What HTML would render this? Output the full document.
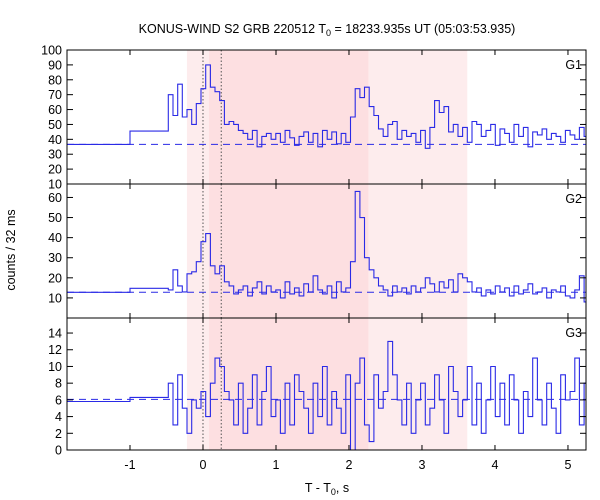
<!DOCTYPE html>
<html><head><meta charset="utf-8"><style>
body{margin:0;background:#fff}
svg{display:block;font-family:"Liberation Sans","DejaVu Sans",sans-serif}
</style></head><body>
<svg id="chart" width="600" height="500">
<text x="327" y="33" text-anchor="middle" font-size="12.5">KONUS-WIND S2 GRB 220512 T<tspan font-size="9" dy="3">0</tspan><tspan dy="-3"> = 18233.935s UT (05:03:53.935)</tspan></text>
<text transform="translate(15,250) rotate(-90)" text-anchor="middle" font-size="12.5">counts / 32 ms</text>
<text x="327" y="492" text-anchor="middle" font-size="12.5">T - T<tspan font-size="9" dy="3">0</tspan><tspan dy="-3">, s</tspan></text>
<g id="plots"></g>
</svg>
<script>
const binStart = -0.475, binWidth = 0.064;
const earlyEdges = [-1.863, -1.0, -0.475];
const g1Early = [36.6, 45.5];
const g1Values = [70,56,77,55,60,50,64,74, 90,75,72,66,
 50,52,50,46,44,40,46,35,42,44,40,
 44,38,46,41,36,42,45,38,44,35,46,40,45,37,44,38,
 55,74,68,75,62,56,47, 42,50,52,40,46,42,44,38,
 46,34,48,66,58,62,45,50,42, 48,38,52,50,42,46,50,36,
 47,44,38,50,42,48,35,45,43,47,40,44,42,38,46,43,40,48,42];
const g1Background = 36.6;
const g2Early = [12.8, 14.8];
const g2Values = [14,24,16,13,22,23,28,38, 42,26,22,26,
 18,16,12,14,16,11,15,18,12,16,13,
 14,10,18,12,15,11,17,13,21,14,12,16,10,18,13,15,
 28,63,50,30,24,20,16, 14,11,16,13,15,12,16,13,
 15,20,17,13,18,15,19,13,22, 20,18,13,15,11,14,12,16,
 13,15,11,16,12,14,17,12,13,15,10,14,13,16,11,10,14,21,8];
const g2Background = 12.8;
const g3Early = [5.8, 6.3];
const g3Values = [8,3,9,5,2,6,5,7, 4,8,11,10,
 7,6,3,8,2,5,9,3,7,10,4,
 6,2,8,3,9,7,5,2,8,4,10,3,7,5,2,9,
 0,8,11,3,1,9,5, 7,13,9,6,3,8,2,6,
 8,3,5,9,6,2,10,7,4, 6,10,3,8,2,6,10,4,
 8,3,9,6,2,7,4,11,6,3,8,5,2,9,6,7,11,3,8];
const g3Background = 6.06;
const xTicks = [-1,0,1,2,3,4,5];
const g1Ticks = [10,20,30,40,50,60,70,80,90,100];
const g2Ticks = [10,20,30,40,50,60];
const g3Ticks = [0,2,4,6,8,10,12,14];
const shadeLight1 = [-0.22, 0.08], shadeDark = [0.08, 2.27], shadeLight2 = [2.27, 3.62];
const markers = [0, 0.25];

const NS = "http://www.w3.org/2000/svg";
const L = 67, R = 586, xMin = -1.863, xMax = 5.247;
const X = t => L + (t - xMin) / (xMax - xMin) * (R - L);
const root = document.getElementById('plots');
function mk(tag, attrs, parent) {
  const e = document.createElementNS(NS, tag);
  for (const k in attrs) e.setAttribute(k, attrs[k]);
  (parent || root).appendChild(e);
  return e;
}
const panels = [
  {name:'g1', top:50, bot:184, lo:10, hi:100, early:g1Early, vals:g1Values, bg:g1Background, ticks:g1Ticks, labels:g1Ticks, label:'G1'},
  {name:'g2', top:184, bot:318, lo:0, hi:66.7, early:g2Early, vals:g2Values, bg:g2Background, ticks:g2Ticks, labels:g2Ticks, label:'G2'},
  {name:'g3', top:318, bot:450, lo:0, hi:15.8, early:g3Early, vals:g3Values, bg:g3Background, ticks:g3Ticks, labels:g3Ticks, label:'G3'}
];
panels.forEach(p => {
  const Y = v => p.bot - (v - p.lo) / (p.hi - p.lo) * (p.bot - p.top);
  const g = mk('g', {});
  
  
  [[shadeLight1,'#fdeced'],[shadeDark,'#fddfe1'],[shadeLight2,'#fdeced']].forEach(([s,c]) => {
    const r = mk('rect', {x:X(s[0]), y:p.top, width:X(s[1])-X(s[0]), height:p.bot-p.top, fill:c}, g);
    
    
  });
  markers.forEach(m => {
    const l = mk('line', {x1:X(m), x2:X(m), y1:p.top, y2:p.bot, stroke:'#555', 'stroke-width':1, 'stroke-dasharray':'1.5,2'}, g);
    
    
  });
  const bl = mk('line', {x1:L, x2:R, y1:Y(p.bg), y2:Y(p.bg), stroke:'#2a2ae6', 'stroke-width':1, 'stroke-dasharray':'7,5'}, g);
  
  
  let d = '';
  const edges = earlyEdges.slice();
  const vals = p.early.slice();
  p.vals.forEach((v,i) => { vals.push(v); edges.push(binStart + (i+1)*binWidth); });
  for (let i = 0; i < vals.length; i++) {
    const x0 = Math.max(X(edges[i]), L), x1 = Math.min(X(edges[i+1]), R), y = Y(Math.max(p.lo, Math.min(p.hi, vals[i])));
    d += (i === 0 ? 'M' : 'L') + x0.toFixed(1) + ',' + y.toFixed(1) + 'L' + x1.toFixed(1) + ',' + y.toFixed(1);
  }
  const path = mk('path', {d:d, fill:'none', stroke:'#2a2ae6', 'stroke-width':1.1}, g);
  
  
  const fr = mk('rect', {x:L, y:p.top, width:R-L, height:p.bot-p.top, fill:'none', stroke:'#000', 'stroke-width':1}, g);
  
  
  p.ticks.forEach(v => {
    const y = Y(v);
    mk('line', {x1:L, x2:L+6, y1:y, y2:y, stroke:'#000'}, g);
    mk('line', {x1:R-6, x2:R, y1:y, y2:y, stroke:'#000'}, g);
    const t = mk('text', {x:L-5, y:y+4.5, 'text-anchor':'end', 'font-size':12.5}, g);
    t.textContent = v;
    
    
  });
  xTicks.forEach(v => {
    const x = X(v);
    mk('line', {x1:x, x2:x, y1:p.top, y2:p.top+5, stroke:'#000'}, g);
    mk('line', {x1:x, x2:x, y1:p.bot-5, y2:p.bot, stroke:'#000'}, g);
  });
  const lab = mk('text', {x:R-4, y:p.top+19, 'text-anchor':'end', 'font-size':12.5}, g);
  lab.textContent = p.label;
  
  
});
xTicks.forEach(v => {
  const t = mk('text', {x:X(v), y:469, 'text-anchor':'middle', 'font-size':12.5});
  t.textContent = v;
  
  
});
</script>
</body></html>
